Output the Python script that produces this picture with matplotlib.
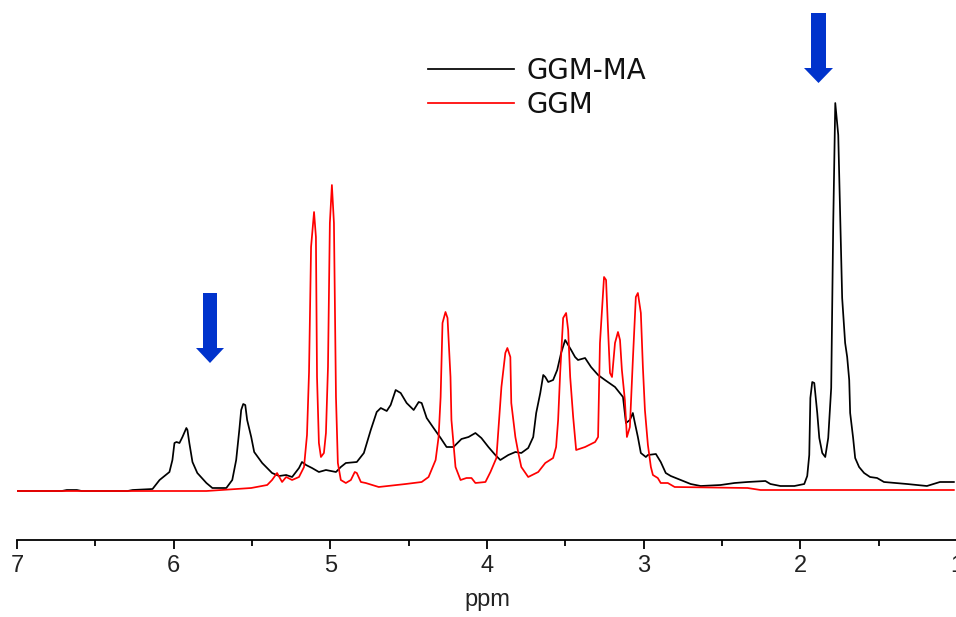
import matplotlib
matplotlib.use("Agg")
import matplotlib.pyplot as plt
from matplotlib.patches import Polygon
from matplotlib.ticker import MultipleLocator

# ---------------- data (ppm, intensity) ----------------
ggm_ma_ppm = [7.000, 6.714, 6.682, 6.618, 6.587, 6.294, 6.262, 6.135, 6.090, 6.027, 6.008, 5.995,
              5.982, 5.963, 5.944, 5.919, 5.912, 5.900, 5.880, 5.849, 5.791, 5.753, 5.664, 5.626,
              5.601, 5.581, 5.569, 5.556, 5.543, 5.531, 5.505, 5.486, 5.435, 5.372, 5.327, 5.282,
              5.244, 5.200, 5.181, 5.155, 5.117, 5.073, 5.028, 4.964, 4.933, 4.901, 4.831, 4.786,
              4.742, 4.704, 4.678, 4.640, 4.615, 4.583, 4.551, 4.513, 4.468, 4.436, 4.417, 4.385,
              4.341, 4.296, 4.258, 4.214, 4.163, 4.118, 4.074, 4.036, 3.991, 3.947, 3.915, 3.864,
              3.819, 3.781, 3.737, 3.705, 3.686, 3.660, 3.641, 3.628, 3.609, 3.578, 3.552, 3.527,
              3.501, 3.482, 3.463, 3.438, 3.419, 3.374, 3.336, 3.291, 3.247, 3.183, 3.132, 3.113,
              3.088, 3.069, 3.056, 3.037, 3.018, 2.986, 2.973, 2.922, 2.891, 2.859, 2.827, 2.763,
              2.700, 2.636, 2.509, 2.420, 2.337, 2.223, 2.191, 2.127, 2.038, 1.975, 1.956, 1.943,
              1.936, 1.924, 1.911, 1.892, 1.879, 1.860, 1.841, 1.822, 1.803, 1.790, 1.777, 1.758,
              1.746, 1.733, 1.714, 1.701, 1.688, 1.682, 1.663, 1.650, 1.625, 1.593, 1.555, 1.510,
              1.466, 1.319, 1.192, 1.109, 1.020]
ggm_ma_int = [0, 0, 1, 1, 0, 0, 1, 2, 11, 19, 31, 48,
              49, 48, 54, 63, 61, 48, 29, 18, 8, 3, 3, 11,
              31, 61, 81, 87, 86, 71, 54, 39, 28, 18, 15, 16,
              14, 23, 29, 26, 23, 19, 21, 19, 24, 28, 29, 38,
              61, 79, 83, 80, 86, 101, 98, 88, 81, 89, 88, 73,
              63, 53, 44, 44, 52, 54, 58, 53, 44, 36, 31, 36,
              39, 38, 43, 54, 78, 98, 116, 114, 109, 111, 121, 138,
              151, 146, 141, 134, 131, 133, 124, 116, 111, 104, 94, 68,
              71, 78, 68, 54, 38, 34, 36, 37, 29, 18, 15, 11,
              7, 5, 6, 8, 9, 10, 7, 5, 5, 7, 15, 36,
              93, 109, 108, 78, 53, 38, 34, 53, 103, 268, 388, 356,
              278, 193, 148, 134, 111, 78, 53, 33, 24, 18, 14, 13,
              9, 7, 5, 9, 9]

ggm_ppm = [7.000, 5.791, 5.505, 5.403, 5.372, 5.340, 5.308, 5.282, 5.244, 5.200, 5.168, 5.149,
           5.136, 5.123, 5.104, 5.092, 5.085, 5.073, 5.060, 5.041, 5.028, 5.015, 5.003, 4.990,
           4.977, 4.964, 4.952, 4.933, 4.901, 4.869, 4.844, 4.831, 4.805, 4.774, 4.691, 4.519,
           4.417, 4.373, 4.328, 4.309, 4.296, 4.284, 4.265, 4.252, 4.233, 4.227, 4.201, 4.169,
           4.131, 4.099, 4.074, 4.010, 3.978, 3.940, 3.908, 3.883, 3.870, 3.851, 3.845, 3.819,
           3.800, 3.781, 3.737, 3.673, 3.628, 3.578, 3.559, 3.546, 3.533, 3.514, 3.495, 3.482,
           3.469, 3.450, 3.431, 3.374, 3.310, 3.291, 3.279, 3.266, 3.253, 3.240, 3.228, 3.215,
           3.202, 3.183, 3.164, 3.151, 3.139, 3.120, 3.107, 3.088, 3.069, 3.050, 3.037, 3.018,
           3.005, 2.992, 2.973, 2.954, 2.941, 2.910, 2.891, 2.846, 2.802, 2.337, 2.254, 1.020]
ggm_int = [0, 0, 3, 6, 11, 18, 9, 14, 11, 14, 24, 56,
           119, 244, 279, 254, 114, 48, 34, 38, 58, 124, 268, 306,
           268, 94, 28, 11, 8, 11, 19, 18, 9, 8, 4, 7,
           9, 14, 31, 54, 94, 168, 179, 173, 114, 71, 24, 11,
           13, 13, 8, 9, 19, 33, 104, 138, 143, 134, 88, 54,
           38, 24, 14, 19, 28, 33, 44, 71, 118, 173, 178, 161,
           114, 74, 41, 44, 49, 54, 148, 181, 214, 211, 164, 118,
           114, 148, 159, 151, 121, 91, 54, 64, 131, 194, 198, 178,
           124, 81, 46, 24, 16, 13, 8, 8, 4, 3, 1, 1]

series_labels = ["GGM-MA", "GGM"]
x_ticks = [7, 6, 5, 4, 3, 2, 1]
x_label = "ppm"

# ---------------- figure ----------------
W, H = 956, 617
fig = plt.figure(figsize=(W / 100, H / 100), dpi=100)
plt.rcParams['font.family'] = ['Liberation Sans', 'DejaVu Sans']

ax = fig.add_axes([17 / W, (H - 540) / H, 940 / W, 540 / H])
ax.set_xlim(7, 1)
ax.set_ylim(-49, 491)

l1, = ax.plot(ggm_ma_ppm, ggm_ma_int, color="black", lw=1.25, zorder=2)
l2, = ax.plot(ggm_ppm, ggm_int, color="#ff0000", lw=1.25, zorder=3)

for s in ["top", "left", "right"]:
    ax.spines[s].set_visible(False)
ax.spines["bottom"].set_linewidth(1.3)
ax.set_yticks([])
ax.set_xticks(x_ticks)
ax.set_xticklabels([str(t) for t in x_ticks])
ax.xaxis.set_minor_locator(MultipleLocator(0.5))
ax.tick_params(axis="x", which="major", direction="out", length=6.5, width=1.3,
               labelsize=17, pad=4, labelcolor="#222222")
ax.tick_params(axis="x", which="minor", direction="out", length=4, width=1.3)
ax.set_xlabel(x_label, fontsize=17, labelpad=9, color="#222222")

leg = ax.legend([l1, l2], series_labels, loc="upper left",
                bbox_to_anchor=(428 / W, 1 - 57 / H), bbox_transform=fig.transFigure,
                frameon=False, borderpad=0, borderaxespad=0,
                handlelength=3.1, handletextpad=0.45, labelspacing=0.2,
                prop={"family": "DejaVu Sans", "size": 20})
for t in leg.get_texts():
    t.set_color("#111111")


def px(x, y):
    return (x / W, 1 - y / H)


def arrow(xc, top, shaft_half, head_half, head_y, tip_y):
    pts = [px(xc - shaft_half, top), px(xc + shaft_half, top), px(xc + shaft_half, head_y),
           px(xc + head_half, head_y), px(xc, tip_y), px(xc - head_half, head_y),
           px(xc - shaft_half, head_y)]
    fig.patches.append(Polygon(pts, closed=True, transform=fig.transFigure,
                               facecolor="#0033cc", edgecolor="none"))


arrow(210, 293, 7, 14, 348, 363)
arrow(818.5, 13, 7.5, 14.5, 68, 83)

fig.savefig("out.png", dpi=100)
